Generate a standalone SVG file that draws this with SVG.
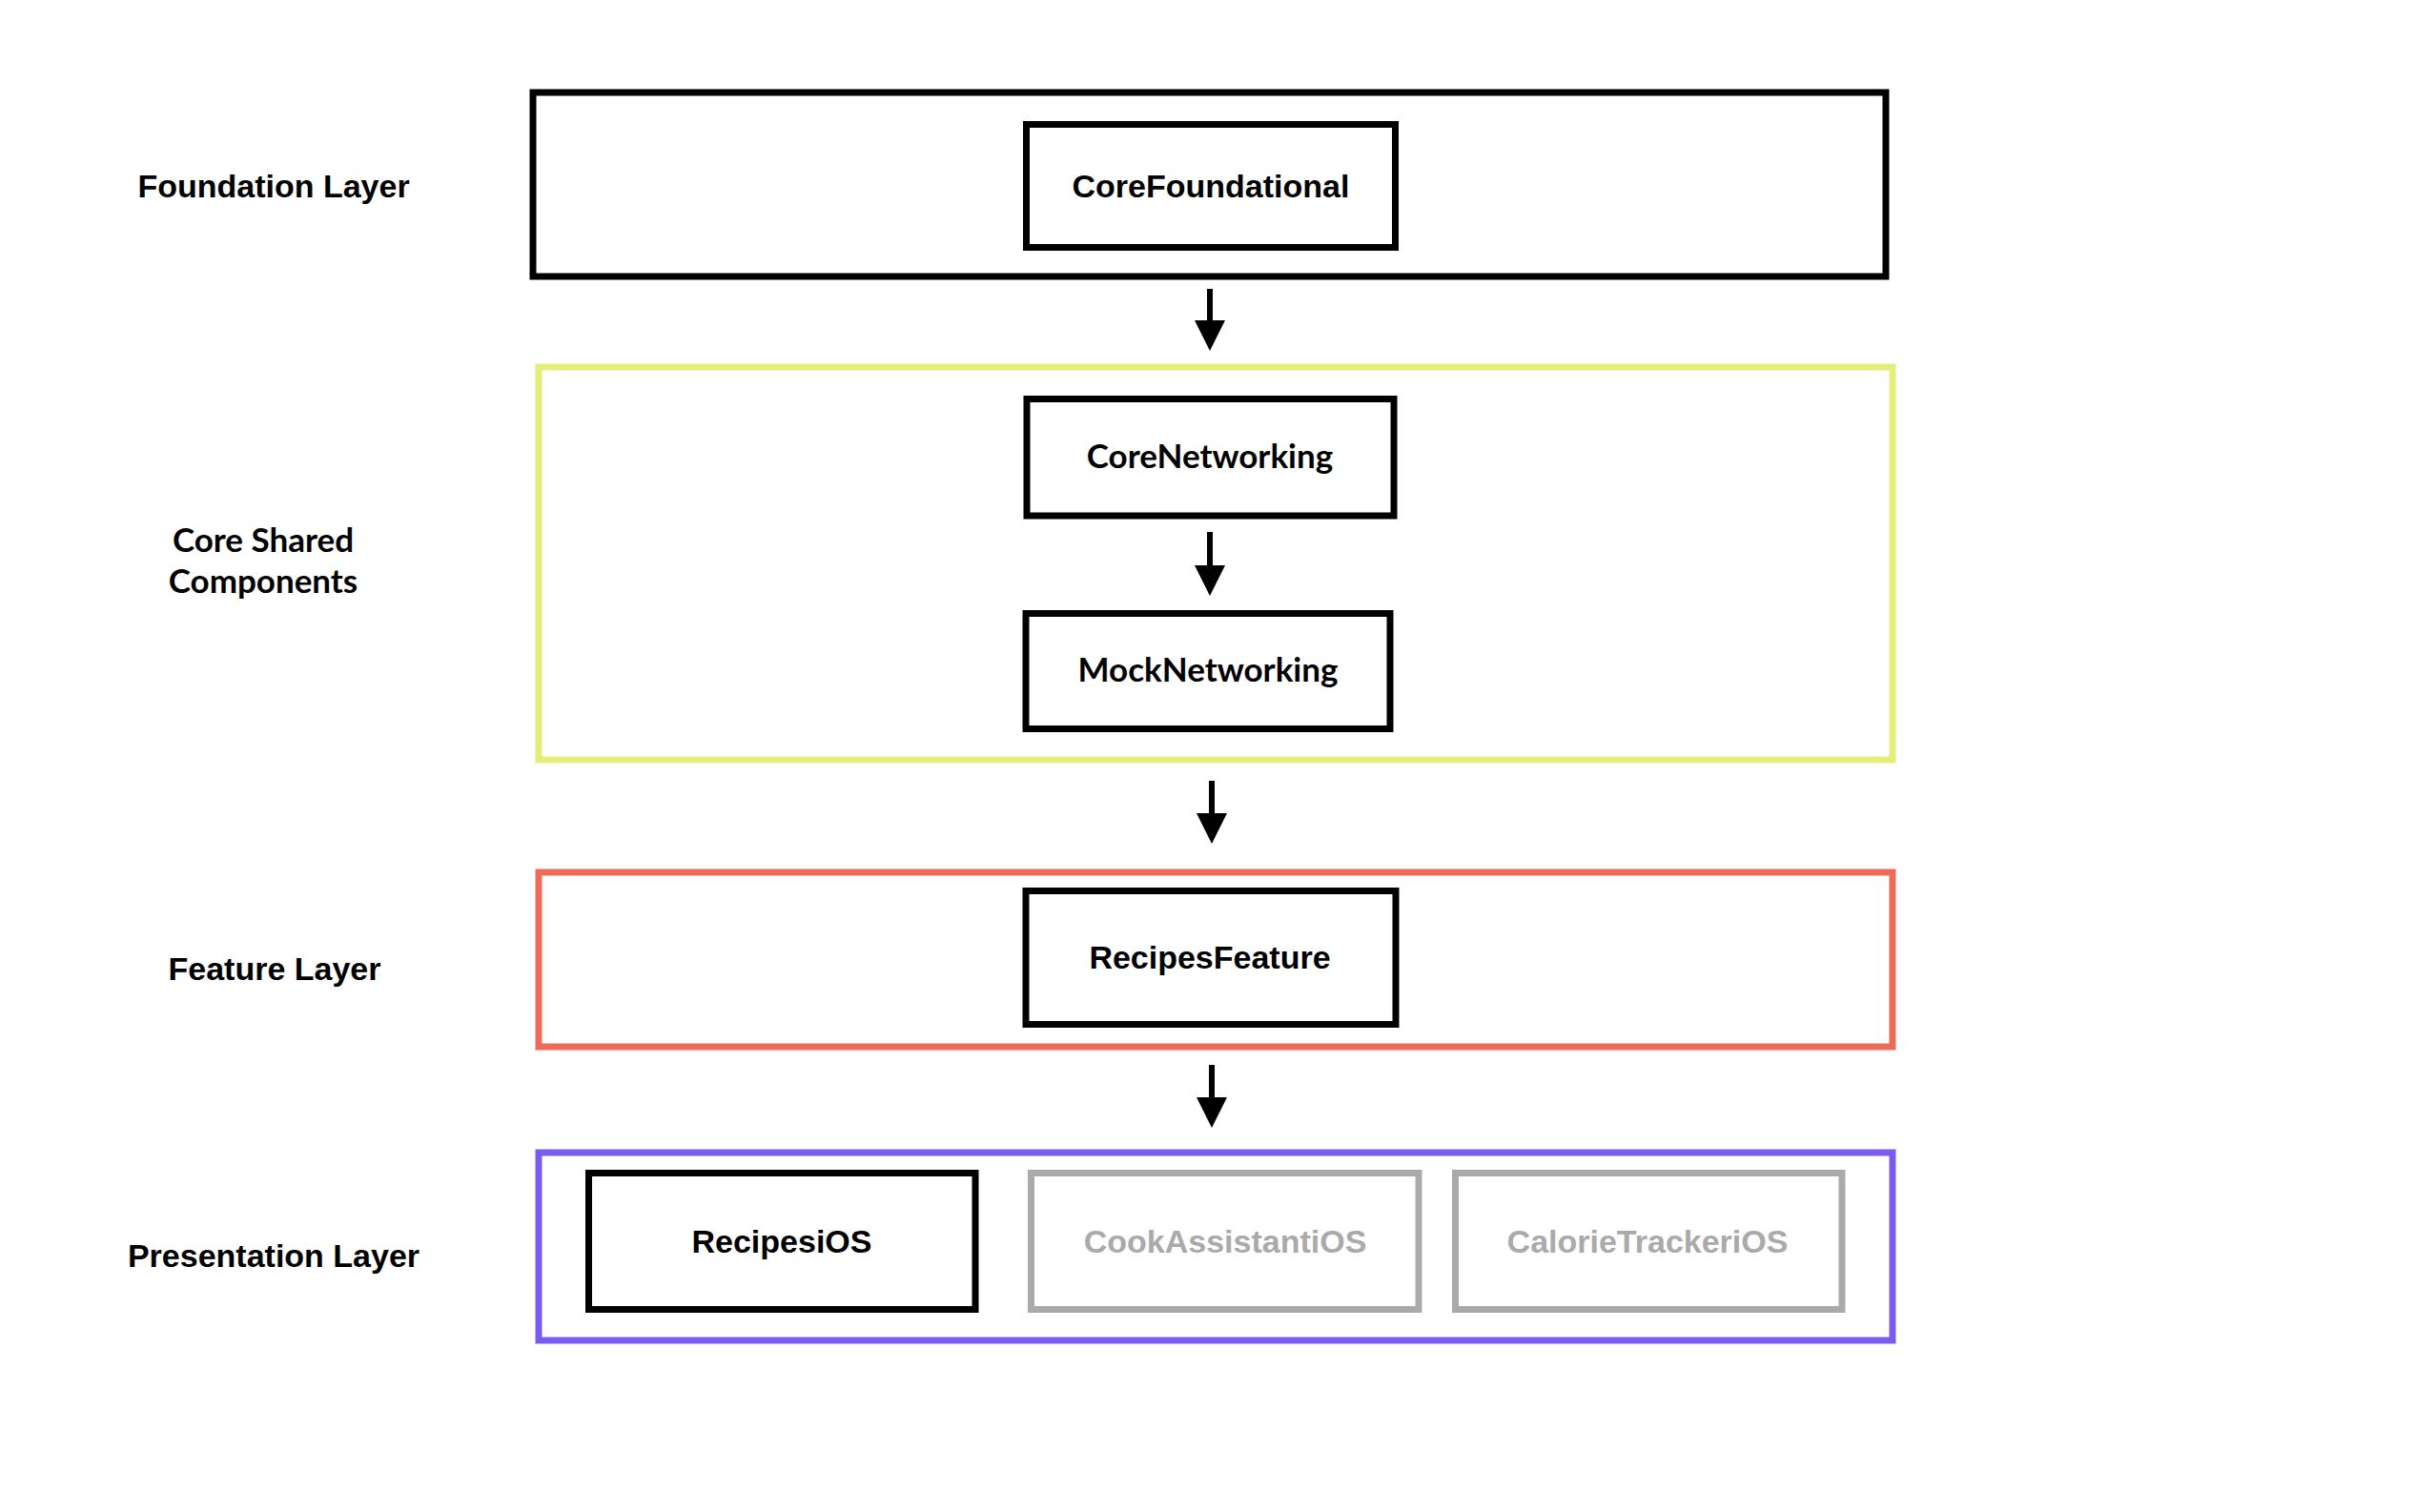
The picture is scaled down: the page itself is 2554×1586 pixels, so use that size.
<svg xmlns="http://www.w3.org/2000/svg" width="2554" height="1586" viewBox="0 0 2554 1586">
  <style>
    .layer { fill: none; stroke-width: 7; }
    .node { fill: #ffffff; stroke: #000000; stroke-width: 7; }
    .node.muted { stroke: #aaaaaa; }
    .sf { font-family: "Liberation Sans", Arial, sans-serif; font-weight: bold; font-size: 34px; fill: #000000; text-anchor: middle; }
    .av { font-family: Lato, "Noto Sans", sans-serif; font-weight: bold; font-size: 35px; fill: #000000; text-anchor: middle; }
    .muted-text { fill: #aaaaaa; }
    .edge { stroke: #000000; stroke-width: 6; fill: none; marker-end: url(#arrow); }
  </style>
  <defs>
    <marker id="arrow" markerUnits="userSpaceOnUse" markerWidth="32" markerHeight="32" refX="8" refY="16" orient="auto">
      <path d="M0,0 L32,16 L0,32 z" fill="#000000"/>
    </marker>
  </defs>

  <rect width="2554" height="1586" fill="#ffffff"/>

  <!-- Layer labels -->
  <g id="labels">
    <text class="sf" x="287" y="207">Foundation Layer</text>
    <text class="av" x="276" y="579">Core Shared</text>
    <text class="av" x="276" y="622">Components</text>
    <text class="sf" x="288" y="1028">Feature Layer</text>
    <text class="sf" x="287" y="1329">Presentation Layer</text>
  </g>

  <!-- Layer frames -->
  <g id="layer-foundation">
    <rect class="layer" x="559" y="97" width="1419" height="193" stroke="#000000" stroke-width="6.5"/>
  </g>
  <g id="layer-core-shared">
    <rect class="layer" x="565" y="385" width="1420" height="412" stroke="#e6ee7a"/>
  </g>
  <g id="layer-feature">
    <rect class="layer" x="565" y="915" width="1420" height="183" stroke="#ee6b5a"/>
  </g>
  <g id="layer-presentation">
    <rect class="layer" x="565" y="1209" width="1420" height="197" stroke="#7b5cf0" stroke-width="6.5"/>
  </g>

  <!-- Modules -->
  <g id="node-core-foundational">
    <rect class="node" x="1076.5" y="130.5" width="387" height="129"/>
    <text class="sf" x="1270" y="207">CoreFoundational</text>
  </g>
  <g id="node-core-networking">
    <rect class="node" x="1077" y="418.5" width="385" height="122.5"/>
    <text class="av" x="1269" y="491">CoreNetworking</text>
  </g>
  <g id="node-mock-networking">
    <rect class="node" x="1076" y="643.5" width="382" height="121"/>
    <text class="av" x="1267" y="715">MockNetworking</text>
  </g>
  <g id="node-recipes-feature">
    <rect class="node" x="1076" y="934.5" width="388" height="140"/>
    <text class="sf" x="1269" y="1016">RecipesFeature</text>
  </g>
  <g id="node-recipes-ios">
    <rect class="node" x="617.5" y="1230.5" width="405.5" height="143"/>
    <text class="sf" x="820" y="1314">RecipesiOS</text>
  </g>
  <g id="node-cook-assistant-ios">
    <rect class="node muted" x="1081.5" y="1230.5" width="406.5" height="143"/>
    <text class="sf muted-text" x="1285" y="1314">CookAssistantiOS</text>
  </g>
  <g id="node-calorie-tracker-ios">
    <rect class="node muted" x="1526.5" y="1230.5" width="405.5" height="143"/>
    <text class="sf muted-text" x="1728" y="1314">CalorieTrackeriOS</text>
  </g>

  <!-- Dependency arrows -->
  <g id="connectors">
    <line class="edge" x1="1269" y1="303" x2="1269" y2="344"/>
    <line class="edge" x1="1269" y1="558" x2="1269" y2="601"/>
    <line class="edge" x1="1271" y1="819" x2="1271" y2="861"/>
    <line class="edge" x1="1271" y1="1117" x2="1271" y2="1159"/>
  </g>
</svg>
